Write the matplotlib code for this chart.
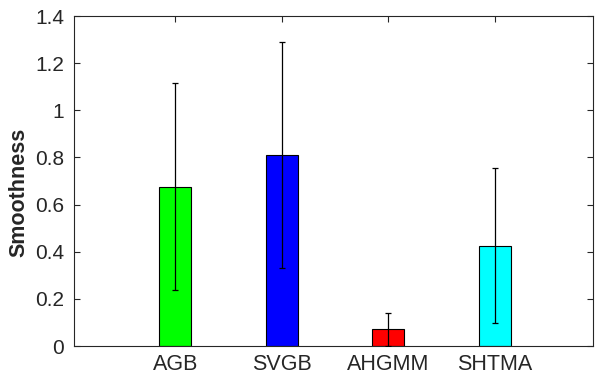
import matplotlib.pyplot as plt
import numpy as np

plt.rcParams['font.family'] = ['Liberation Sans', 'DejaVu Sans']

# data
methods = ['AGB', 'SVGB', 'AHGMM', 'SHTMA']
smoothness = [0.676, 0.810, 0.072, 0.426]
spread = [0.44, 0.48, 0.07, 0.33]
colors = ['#00ff00', '#0000ff', '#ff0000', '#00ffff']
yticks = [0, 0.2, 0.4, 0.6, 0.8, 1, 1.2, 1.4]

fig = plt.figure(figsize=(5.95, 3.74), dpi=100)
ax = fig.add_axes([74 / 595, 28 / 374, 519 / 595, 330 / 374])

x = np.arange(1, len(methods) + 1)
ax.bar(x, smoothness, width=0.3, color=colors, edgecolor='black', linewidth=0.8, zorder=2)
ax.errorbar(x, smoothness, yerr=spread, fmt='none', ecolor='black',
            elinewidth=0.9, capsize=2, capthick=0.9, zorder=3)

ax.set_xlim(0.05, 4.92)
ax.set_ylim(0, 1.4)
ax.set_xticks(x)
ax.set_xticklabels(methods)
ax.set_yticks(yticks)
ax.set_yticklabels(['%g' % t for t in yticks])
ax.set_ylabel('Smoothness', fontsize=15.5, fontweight='bold', color='#262626')
ax.yaxis.set_label_coords(-0.086, 0.465)

# matlab-like box with inward ticks
ax.tick_params(direction='in', top=True, right=True, length=4, width=0.8,
               colors='#262626')
ax.tick_params(axis='x', labelsize=15.5, pad=6)
ax.tick_params(axis='y', labelsize=15, pad=7)
for s in ax.spines.values():
    s.set_color('#262626')
    s.set_linewidth(0.8)

fig.savefig('out.png', dpi=100)
